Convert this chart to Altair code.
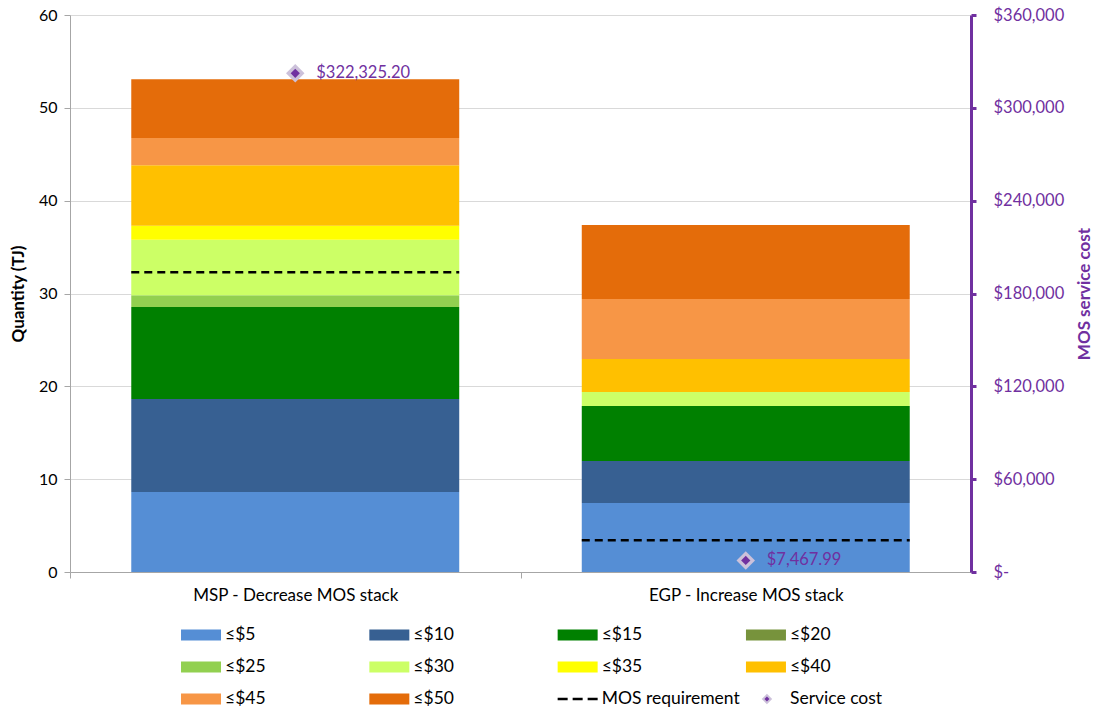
import altair as alt
import pandas as pd

# ---------------- data ----------------
categories = ["MSP - Decrease MOS stack", "EGP - Increase MOS stack"]
tiers = ["≤$5", "≤$10", "≤$15", "≤$20", "≤$25", "≤$30", "≤$35", "≤$40", "≤$45", "≤$50"]
tier_colors = ["#558ED5", "#376092", "#008000", "#77933C", "#92D050",
               "#CCFF66", "#FFFF00", "#FFC000", "#F79646", "#E46C0A"]
msp_values = [8.62, 10.02, 9.91, 0.0, 1.26, 5.99, 1.50, 6.51, 2.94, 6.32]
egp_values = [7.43, 4.53, 5.92, 0.0, 0.0, 1.51, 0.0, 3.56, 6.46, 7.97]
mos_requirement = [32.28, 3.41]
service_cost = [322325.20, 7467.99]
legend_labels = tiers + ["MOS requirement", "Service cost"]
legend_kinds = ["swatch"] * 10 + ["dash", "diamond"]

PURPLE = "#7030A0"
LAVENDER = "#CCC1DA"
FONT = "Lato"
PLOT_W, PLOT_H = 901, 557

rows = []
for cat, vals in zip(categories, [msp_values, egp_values]):
    for i, (t, v) in enumerate(zip(tiers, vals)):
        if v > 0:
            rows.append({"category": cat, "tier": t, "idx": i, "value": v})
df = pd.DataFrame(rows)
df_mos = pd.DataFrame({"category": categories, "mos": mos_requirement})
df_cost = pd.DataFrame({"category": categories, "cost": service_cost})
df_leg = pd.DataFrame({
    "label": legend_labels,
    "kind": legend_kinds,
    "tier": legend_labels,
    "col": [i % 4 for i in range(len(legend_labels))],
    "row": [i // 4 for i in range(len(legend_labels))],
})

color_scale = alt.Scale(domain=tiers, range=tier_colors)
half_step = PLOT_W / len(categories) / 2


def x_enc(**kw):
    return alt.X(
        "category:N", sort=categories, title=None,
        scale=alt.Scale(paddingInner=0.272, paddingOuter=0.136),
        axis=alt.Axis(labelAngle=0, labelFontSize=17, labelColor="#000000",
                      labelPadding=9, labelLimit=0, domainColor="#A6A6A6",
                      tickColor="#A6A6A6", tickSize=6, grid=False,
                      tickOffset=-half_step, labelOffset=half_step),
        **kw)


y_left = alt.Y(
    "value:Q", stack="zero", scale=alt.Scale(domain=[0, 60], nice=False),
    axis=alt.Axis(values=list(range(0, 61, 10)), title="Quantity (TJ)",
                  titleFontSize=17, titleFontWeight="bold", titleColor="#000000",
                  titlePadding=11, labelFontSize=16, labelColor="#000000",
                  labelPadding=7, tickSize=6, tickColor="#A6A6A6",
                  domainColor="#A6A6A6", gridColor="#D9D9D9", grid=True))

bars = alt.Chart(df).mark_bar().encode(
    x=x_enc(),
    y=y_left,
    color=alt.Color("tier:N", scale=color_scale, legend=None),
    order=alt.Order("idx:Q", sort="ascending"),
)

rules = alt.Chart(df_mos).mark_rule(color="#000000", strokeWidth=2.5,
                                    strokeDash=[8, 5]).encode(
    x=x_enc(bandPosition=0),
    x2=alt.X2("category", bandPosition=1),
    y=alt.Y("mos:Q"),
)

y_right = alt.Y(
    "cost:Q", scale=alt.Scale(domain=[0, 360000], nice=False),
    axis=alt.Axis(orient="right", values=list(range(0, 360001, 60000)),
                  labelExpr="datum.value == 0 ? '$-' : '$' + format(datum.value, ',')",
                  title="MOS service cost", titleAngle=270, titleFontSize=17,
                  titleFontWeight="bold", titleColor=PURPLE, titlePadding=30,
                  labelFontSize=16.5, labelColor=PURPLE, labelPadding=17,
                  domainColor=PURPLE, domainWidth=3, tickColor=PURPLE,
                  tickWidth=3, tickSize=5, grid=False))

pts_outer = alt.Chart(df_cost).mark_point(
    shape="diamond", filled=True, size=340, color=LAVENDER, opacity=1).encode(
    x=x_enc(), y=y_right)
pts_inner = alt.Chart(df_cost).mark_point(
    shape="diamond", filled=True, size=85, color=PURPLE, opacity=1).encode(
    x=x_enc(), y=y_right)
cost_text = alt.Chart(df_cost).transform_calculate(
    label="'$' + format(datum.cost, ',.2f')"
).mark_text(align="left", baseline="middle", dx=21, fontSize=16.5,
            color=PURPLE).encode(x=x_enc(), y=y_right, text="label:N")

left = alt.layer(bars, rules)
right = alt.layer(pts_outer, pts_inner, cost_text)
main = alt.layer(left, right).resolve_scale(y="independent").properties(
    width=PLOT_W, height=PLOT_H)

# ---------------- legend panel ----------------
lx = alt.X("col:Q", scale=alt.Scale(domain=[-0.5895, 4.195], nice=False,
                                    zero=False), axis=None)
ly = alt.Y("row:Q", scale=alt.Scale(domain=[-0.5, 2.5], nice=False,
                                    zero=False, reverse=True), axis=None)
base = alt.Chart(df_leg)
swatch = base.transform_filter("datum.kind == 'swatch'").mark_rect(
    x2Offset=40, yOffset=-5.5, y2Offset=5.5).encode(
    x=lx, x2="col:Q", y=ly, y2="row:Q",
    color=alt.Color("tier:N", scale=color_scale, legend=None))
dash = base.transform_filter("datum.kind == 'dash'").mark_rule(
    color="#000000", strokeWidth=2.5, strokeDash=[10, 5], x2Offset=41).encode(
    x=lx, x2="col:Q", y=ly)
d_outer = base.transform_filter("datum.kind == 'diamond'").mark_point(
    shape="diamond", filled=True, size=110, color=LAVENDER, opacity=1,
    xOffset=21).encode(x=lx, y=ly)
d_inner = base.transform_filter("datum.kind == 'diamond'").mark_point(
    shape="diamond", filled=True, size=25, color=PURPLE, opacity=1,
    xOffset=21).encode(x=lx, y=ly)
texts = base.mark_text(align="left", baseline="middle", dx=44, fontSize=17.5,
                       color="#000000").encode(x=lx, y=ly, text="label:N")
legend_chart = alt.layer(swatch, dash, d_outer, d_inner, texts).properties(
    width=PLOT_W, height=96)

chart = alt.vconcat(main, legend_chart, spacing=47, bounds="flush").properties(
    padding={"left": 9, "top": 7, "right": 0, "bottom": 0},
    background="#FFFFFF",
).configure(font=FONT).configure_view(stroke=None)

chart.save("out.html", embed_options={"renderer": "svg", "actions": False})
